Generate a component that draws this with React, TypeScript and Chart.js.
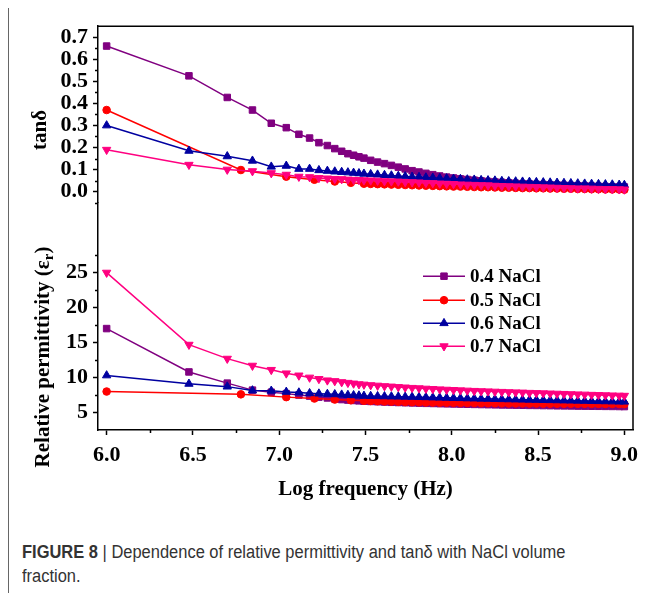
import React, { useEffect, useRef } from 'react';
import { Chart, registerables } from 'chart.js';
import { drawPoint } from 'chart.js/helpers';

Chart.register(...registerables);

// ---------- data ----------
// log10(frequency) grid used by 0.4, 0.6 and 0.7 NaCl
const LOG_F = [6.0, 6.477, 6.699, 6.845, 6.954, 7.041, 7.114, 7.176, 7.23, 7.279, 7.322, 7.362, 7.398, 7.431, 7.462, 7.491,
  7.53, 7.57, 7.61, 7.65, 7.69, 7.73, 7.77, 7.81, 7.85, 7.89, 7.93, 7.97, 8.01, 8.05, 8.09, 8.13, 8.17, 8.21, 8.25, 8.29,
  8.33, 8.37, 8.41, 8.45, 8.49, 8.53, 8.57, 8.61, 8.65, 8.69, 8.73, 8.77, 8.81, 8.85, 8.89, 8.93, 8.97, 9.0];
// log10(frequency) grid used by 0.5 NaCl
const LOG_F_RED = [6.0, 6.778, 7.041, 7.204, 7.322, 7.415, 7.491,
  7.53, 7.57, 7.61, 7.65, 7.69, 7.73, 7.77, 7.81, 7.85, 7.89, 7.93, 7.97, 8.01, 8.05, 8.09, 8.13, 8.17, 8.21, 8.25, 8.29,
  8.33, 8.37, 8.41, 8.45, 8.49, 8.53, 8.57, 8.61, 8.65, 8.69, 8.73, 8.77, 8.81, 8.85, 8.89, 8.93, 8.97, 9.0];

const TAN_04 = [0.66, 0.525, 0.427, 0.37, 0.31, 0.29, 0.26, 0.243, 0.222, 0.209, 0.195, 0.183, 0.172, 0.165, 0.158, 0.152,
  0.142, 0.134, 0.127, 0.119, 0.111, 0.103, 0.095, 0.089, 0.083, 0.077, 0.071, 0.066, 0.062, 0.058, 0.055, 0.052, 0.049,
  0.046, 0.044, 0.042, 0.04, 0.038, 0.036, 0.035, 0.033, 0.032, 0.031, 0.03, 0.029, 0.028, 0.027, 0.026, 0.025, 0.024,
  0.023, 0.022, 0.021, 0.021];
const TAN_05 = [0.37, 0.098, 0.068, 0.054, 0.046, 0.04, 0.036,
  0.035, 0.034, 0.033, 0.032, 0.031, 0.03, 0.029, 0.028, 0.027, 0.026, 0.025, 0.024, 0.023, 0.023, 0.022, 0.021, 0.02,
  0.02, 0.019, 0.018, 0.018, 0.017, 0.016, 0.016, 0.015, 0.015, 0.014, 0.014, 0.013, 0.013, 0.012, 0.012, 0.011, 0.011,
  0.01, 0.01, 0.01, 0.009];
const TAN_06 = [0.3, 0.185, 0.16, 0.14, 0.113, 0.117, 0.103, 0.103, 0.097, 0.094, 0.091, 0.089, 0.087, 0.085, 0.083, 0.081,
  0.079, 0.077, 0.075, 0.073, 0.071, 0.069, 0.067, 0.066, 0.064, 0.063, 0.061, 0.06, 0.058, 0.057, 0.055, 0.054, 0.052,
  0.051, 0.05, 0.048, 0.047, 0.046, 0.045, 0.044, 0.043, 0.042, 0.041, 0.04, 0.039, 0.038, 0.037, 0.036, 0.035, 0.034,
  0.033, 0.032, 0.031, 0.03];
const TAN_07 = [0.19, 0.122, 0.1, 0.093, 0.084, 0.077, 0.068, 0.066, 0.062, 0.06, 0.058, 0.057, 0.055, 0.054, 0.053, 0.052,
  0.051, 0.05, 0.048, 0.047, 0.046, 0.044, 0.043, 0.042, 0.04, 0.039, 0.037, 0.036, 0.035, 0.033, 0.032, 0.031, 0.03,
  0.029, 0.027, 0.026, 0.025, 0.024, 0.023, 0.022, 0.021, 0.02, 0.019, 0.018, 0.017, 0.016, 0.015, 0.015, 0.014, 0.013,
  0.012, 0.012, 0.011, 0.01];

const EPS_04 = [17.0, 10.8, 9.2, 8.2, 7.9, 7.7, 7.5, 7.35, 7.2, 7.08, 6.95, 6.85, 6.78, 6.72, 6.67, 6.62,
  6.58, 6.54, 6.5, 6.46, 6.43, 6.4, 6.37, 6.34, 6.31, 6.29, 6.26, 6.24, 6.22, 6.2, 6.18, 6.16, 6.14, 6.12, 6.1, 6.08,
  6.07, 6.05, 6.04, 6.02, 6.01, 5.99, 5.98, 5.96, 5.95, 5.94, 5.92, 5.91, 5.9, 5.89, 5.88, 5.87, 5.86, 5.85];
const EPS_05 = [8.0, 7.6, 7.2, 7.0, 6.85, 6.75, 6.68,
  6.65, 6.62, 6.59, 6.56, 6.53, 6.5, 6.48, 6.46, 6.44, 6.42, 6.4, 6.39, 6.38, 6.37, 6.36, 6.35, 6.34, 6.33, 6.32, 6.31,
  6.3, 6.3, 6.29, 6.28, 6.28, 6.27, 6.26, 6.26, 6.25, 6.25, 6.24, 6.24, 6.23, 6.23, 6.22, 6.22, 6.21, 6.2];
const EPS_06 = [10.3, 9.1, 8.7, 8.15, 8.1, 7.95, 7.85, 7.75, 7.7, 7.65, 7.6, 7.55, 7.5, 7.46, 7.42, 7.38,
  7.35, 7.33, 7.31, 7.29, 7.27, 7.25, 7.23, 7.2, 7.18, 7.15, 7.12, 7.1, 7.07, 7.05, 7.02, 7.0, 6.97, 6.95, 6.92, 6.9,
  6.88, 6.86, 6.84, 6.82, 6.8, 6.78, 6.76, 6.74, 6.72, 6.7, 6.68, 6.66, 6.64, 6.62, 6.6, 6.58, 6.56, 6.55];
const EPS_07 = [25.0, 14.7, 12.7, 11.7, 11.1, 10.6, 10.3, 10.0, 9.8, 9.6, 9.5, 9.35, 9.25, 9.15, 9.05, 9.0,
  8.92, 8.85, 8.78, 8.72, 8.65, 8.59, 8.53, 8.48, 8.42, 8.37, 8.32, 8.27, 8.23, 8.18, 8.14, 8.1, 8.06, 8.03, 7.99, 7.96,
  7.92, 7.89, 7.86, 7.82, 7.79, 7.76, 7.73, 7.7, 7.67, 7.63, 7.6, 7.57, 7.54, 7.51, 7.48, 7.45, 7.42, 7.4];

const SERIES_LABELS = ['0.4 NaCl', '0.5 NaCl', '0.6 NaCl', '0.7 NaCl'];
const SERIES_COLORS = ['#800080', '#FF0000', '#0000A0', '#FF0080'];
const POINT_STYLES = ['rect', 'circle', 'triangle', 'triangle'];
const POINT_ROTATIONS = [0, 0, 0, 180];
const POINT_RADII = [4.6, 3.8, 4.8, 4.8];

const X_TICKS = [6.0, 6.5, 7.0, 7.5, 8.0, 8.5, 9.0];
const X_MINOR_TICKS = [6.25, 6.75, 7.25, 7.75, 8.25, 8.75];
const TAN_TICKS = [0.0, 0.1, 0.2, 0.3, 0.4, 0.5, 0.6, 0.7];
const TAN_MINOR_TICKS = [-0.05, 0.05, 0.15, 0.25, 0.35, 0.45, 0.55, 0.65];
const EPS_TICKS = [5, 10, 15, 20, 25];
const EPS_MINOR_TICKS = [7.5, 12.5, 17.5, 22.5, 27.5];

const SERIF = '"Liberation Serif", "Times New Roman", serif';

function makeDataset(xs: number[], ys: number[], i: number, axis: string) {
  const c = SERIES_COLORS[i];
  return {
    label: SERIES_LABELS[i],
    data: xs.map((x, k) => ({ x, y: ys[k] })),
    yAxisID: axis,
    borderColor: c,
    backgroundColor: c,
    borderWidth: 1.5,
    pointStyle: POINT_STYLES[i],
    rotation: POINT_ROTATIONS[i],
    pointRadius: POINT_RADII[i],
    pointBorderWidth: 1,
    pointBackgroundColor: c,
    pointBorderColor: c,
    tension: 0,
    order: 3 - i,
    clip: false as any,
  };
}

const decorPlugin = {
  id: 'decor',
  afterDraw(chart: any) {
    const ctx = chart.ctx;
    const ca = chart.chartArea;
    const xs = chart.scales.x;
    const yt = chart.scales.yTan;
    const ye = chart.scales.yEps;
    ctx.save();
    // frame (top + right)
    ctx.strokeStyle = '#000';
    ctx.lineWidth = 1.5;
    ctx.beginPath();
    ctx.moveTo(ca.left, ca.top);
    ctx.lineTo(ca.right, ca.top);
    ctx.lineTo(ca.right, ca.bottom);
    ctx.stroke();
    // minor ticks
    ctx.beginPath();
    X_MINOR_TICKS.forEach((v) => {
      const p = Math.round(xs.getPixelForValue(v)) + 0.5;
      ctx.moveTo(p, ca.bottom);
      ctx.lineTo(p, ca.bottom + 3);
    });
    TAN_MINOR_TICKS.forEach((v) => {
      const p = Math.round(yt.getPixelForValue(v)) + 0.5;
      ctx.moveTo(ca.left - 3, p);
      ctx.lineTo(ca.left, p);
    });
    EPS_MINOR_TICKS.forEach((v) => {
      const p = Math.round(ye.getPixelForValue(v)) + 0.5;
      ctx.moveTo(ca.left - 3, p);
      ctx.lineTo(ca.left, p);
    });
    ctx.stroke();

    // axis titles
    ctx.fillStyle = '#000';
    ctx.font = `bold 21px ${SERIF}`;
    ctx.textAlign = 'center';
    ctx.textBaseline = 'middle';
    ctx.fillText('Log frequency (Hz)', (ca.left + ca.right) / 2, 482);

    ctx.save();
    ctx.translate(32, 122);
    ctx.rotate(-Math.PI / 2);
    ctx.fillText('tan\u03b4', 0, 0);
    ctx.restore();

    ctx.save();
    ctx.translate(33, 349);
    ctx.rotate(-Math.PI / 2);
    const main = 'Relative permittivity (\u03b5';
    const sub = 'r';
    const tail = ')';
    ctx.font = `bold 21px ${SERIF}`;
    const wMain = ctx.measureText(main).width;
    const wTail = ctx.measureText(tail).width;
    ctx.font = `bold 15px ${SERIF}`;
    const wSub = ctx.measureText(sub).width;
    const total = wMain + wSub + wTail;
    const x0 = -total / 2;
    ctx.textAlign = 'left';
    ctx.textBaseline = 'alphabetic';
    ctx.font = `bold 21px ${SERIF}`;
    ctx.fillText(main, x0, 7);
    ctx.font = `bold 15px ${SERIF}`;
    ctx.fillText(sub, x0 + wMain, 11);
    ctx.font = `bold 21px ${SERIF}`;
    ctx.fillText(tail, x0 + wMain + wSub, 7);
    ctx.restore();

    // legend
    const lx0 = ca.left + 325;
    const lx1 = ca.left + 367;
    const mx = ca.left + 346;
    const tx = ca.left + 372;
    const rows = [250, 274, 297, 320];
    ctx.font = `bold 19px ${SERIF}`;
    ctx.textAlign = 'left';
    ctx.textBaseline = 'middle';
    for (let i = 0; i < 4; i++) {
      const y = ca.top + rows[i];
      const c = SERIES_COLORS[i];
      ctx.strokeStyle = c;
      ctx.fillStyle = c;
      ctx.lineWidth = 1.5;
      ctx.beginPath();
      ctx.moveTo(lx0, y);
      ctx.lineTo(lx1, y);
      ctx.stroke();
      ctx.lineWidth = 1;
      drawPoint(ctx, { pointStyle: POINT_STYLES[i], rotation: POINT_ROTATIONS[i], radius: POINT_RADII[i], borderWidth: 1 } as any, mx, y);
      ctx.fillStyle = '#000';
      ctx.fillText(SERIES_LABELS[i], tx, y + 1);
    }
    ctx.restore();
  },
};

export default function App() {
  const ref = useRef<HTMLCanvasElement | null>(null);

  useEffect(() => {
    document.documentElement.style.overflow = 'hidden';
    const canvas = ref.current;
    if (!canvas) return;
    const datasets = [
      makeDataset(LOG_F, TAN_04, 0, 'yTan'),
      makeDataset(LOG_F_RED, TAN_05, 1, 'yTan'),
      makeDataset(LOG_F, TAN_06, 2, 'yTan'),
      makeDataset(LOG_F, TAN_07, 3, 'yTan'),
      makeDataset(LOG_F, EPS_04, 0, 'yEps'),
      makeDataset(LOG_F_RED, EPS_05, 1, 'yEps'),
      makeDataset(LOG_F, EPS_06, 2, 'yEps'),
      makeDataset(LOG_F, EPS_07, 3, 'yEps'),
    ];
    const tickFont = { family: SERIF, size: 22, weight: 'bold' as const };
    const grid = { drawOnChartArea: false, tickLength: 5, tickWidth: 1.5, tickColor: '#000' };
    const chart = new Chart(canvas, {
      type: 'line',
      data: { datasets: datasets as any },
      options: {
        animation: false,
        responsive: false,
        devicePixelRatio: 1,
        layout: { padding: { left: 0, right: 19, top: 17, bottom: 0 } },
        plugins: { legend: { display: false }, tooltip: { enabled: false } },
        scales: {
          x: {
            type: 'linear',
            min: 5.95,
            max: 9.05,
            afterFit: (s: any) => { s.height = 93; },
            afterBuildTicks: (s: any) => { s.ticks = X_TICKS.map((v) => ({ value: v })); },
            border: { color: '#000', width: 1.5 },
            grid,
            ticks: {
              autoSkip: false,
              maxRotation: 0,
              padding: 7,
              color: '#000',
              font: tickFont,
              callback: (v: any) => Number(v).toFixed(1),
            },
          },
          yEps: {
            type: 'linear',
            position: 'left',
            stack: 'panels',
            stackWeight: 228,
            min: 2.5,
            max: 35,
            afterFit: (s: any) => { s.width = 89; },
            afterBuildTicks: (s: any) => { s.ticks = EPS_TICKS.map((v) => ({ value: v })); },
            border: { color: '#000', width: 1.5 },
            grid,
            ticks: {
              autoSkip: false,
              padding: 5,
              color: '#000',
              font: tickFont,
              callback: (v: any) => String(v),
            },
          },
          yTan: {
            type: 'linear',
            position: 'left',
            stack: 'panels',
            stackWeight: 177,
            min: -0.05,
            max: 0.75,
            afterFit: (s: any) => { s.width = 89; },
            afterBuildTicks: (s: any) => { s.ticks = TAN_TICKS.map((v) => ({ value: v })); },
            border: { color: '#000', width: 1.5 },
            grid,
            ticks: {
              autoSkip: false,
              padding: 5,
              color: '#000',
              font: tickFont,
              callback: (v: any) => Number(v).toFixed(1),
            },
          },
        } as any,
      },
      plugins: [decorPlugin],
    });
    return () => chart.destroy();
  }, []);

  return (
    <div
      style={{
        marginTop: -1,
        borderTop: '1px solid #666',
        borderLeft: '1px solid #666',
        width: 643,
        height: 585,
        position: 'relative',
        overflow: 'hidden',
      }}
    >
      <canvas ref={ref} width={643} height={515} style={{ display: 'block' }} />
      <div
        style={{
          position: 'absolute',
          left: 13,
          top: 532,
          width: 700,
          whiteSpace: 'nowrap',
          transform: 'scaleX(0.915)',
          transformOrigin: 'left top',
          fontFamily: '"Liberation Sans", Arial, sans-serif',
          fontSize: 18,
          lineHeight: '24px',
          color: '#333',
        }}
      >
        <b>FIGURE 8</b> | Dependence of relative permittivity and tan&#948; with NaCl volume
        <br />
        fraction.
      </div>
    </div>
  );
}
